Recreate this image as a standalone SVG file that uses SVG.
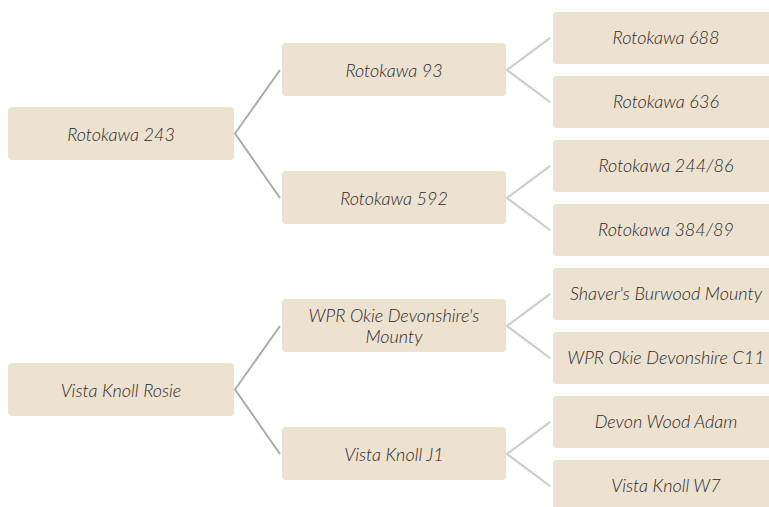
<svg xmlns="http://www.w3.org/2000/svg" width="769" height="507" viewBox="0 0 769 507">
<style>
.n rect{fill:#ede1d0;}
.n text{font-family:Lato,"Open Sans","Liberation Sans",sans-serif;font-style:italic;font-weight:300;font-size:18px;fill:#2a2a2a;text-anchor:middle;dominant-baseline:central;}
.c1{stroke:#ababab;stroke-width:2;fill:none;}
.c2{stroke:#c9c9c9;stroke-width:2;fill:none;}
</style>
<rect width="769" height="507" fill="#ffffff"/>
<g id="connectors">
<polyline class="c1" points="280,70 235,133.5 280,198"/>
<polyline class="c1" points="280,326 235,389.5 280,454"/>
<polyline class="c2" points="550,38 507,70 550,102"/>
<polyline class="c2" points="550,166 507,198 550,230"/>
<polyline class="c2" points="550,294 507,326 550,358"/>
<polyline class="c2" points="550,422 507,454 550,486"/>
</g>
<g id="n-rotokawa243" class="n"><rect x="8" y="107" width="226" height="53" rx="4"/><text x="121" y="133.5">Rotokawa 243</text></g>
<g id="n-vistaknollrosie" class="n"><rect x="8" y="363" width="226" height="53" rx="4"/><text x="121" y="389.5">Vista Knoll Rosie</text></g>
<g id="n-rotokawa93" class="n"><rect x="282" y="43" width="224" height="53" rx="4"/><text x="394" y="69.5">Rotokawa 93</text></g>
<g id="n-rotokawa592" class="n"><rect x="282" y="171" width="224" height="53" rx="4"/><text x="394" y="197.5">Rotokawa 592</text></g>
<g id="n-wprmounty" class="n"><rect x="282" y="299" width="224" height="53" rx="4"/><text x="394" y="315">WPR Okie Devonshire's</text><text x="394" y="336">Mounty</text></g>
<g id="n-vistaknollj1" class="n"><rect x="282" y="427" width="224" height="53" rx="4"/><text x="394" y="453.5">Vista Knoll J1</text></g>
<g id="n-rotokawa688" class="n"><rect x="553" y="12" width="226" height="52" rx="4"/><text x="666" y="37">Rotokawa 688</text></g>
<g id="n-rotokawa636" class="n"><rect x="553" y="76" width="226" height="52" rx="4"/><text x="666" y="101">Rotokawa 636</text></g>
<g id="n-rotokawa24486" class="n"><rect x="553" y="140" width="226" height="52" rx="4"/><text x="666" y="165">Rotokawa 244/86</text></g>
<g id="n-rotokawa38489" class="n"><rect x="553" y="204" width="226" height="52" rx="4"/><text x="666" y="229">Rotokawa 384/89</text></g>
<g id="n-shavers" class="n"><rect x="553" y="268" width="226" height="52" rx="4"/><text x="666" y="293">Shaver's Burwood Mounty</text></g>
<g id="n-wprc11" class="n"><rect x="553" y="332" width="226" height="52" rx="4"/><text x="666" y="357">WPR Okie Devonshire C11</text></g>
<g id="n-devonwoodadam" class="n"><rect x="553" y="396" width="226" height="52" rx="4"/><text x="666" y="421">Devon Wood Adam</text></g>
<g id="n-vistaknollw7" class="n"><rect x="553" y="460" width="226" height="52" rx="4"/><text x="666" y="485">Vista Knoll W7</text></g>
</svg>
